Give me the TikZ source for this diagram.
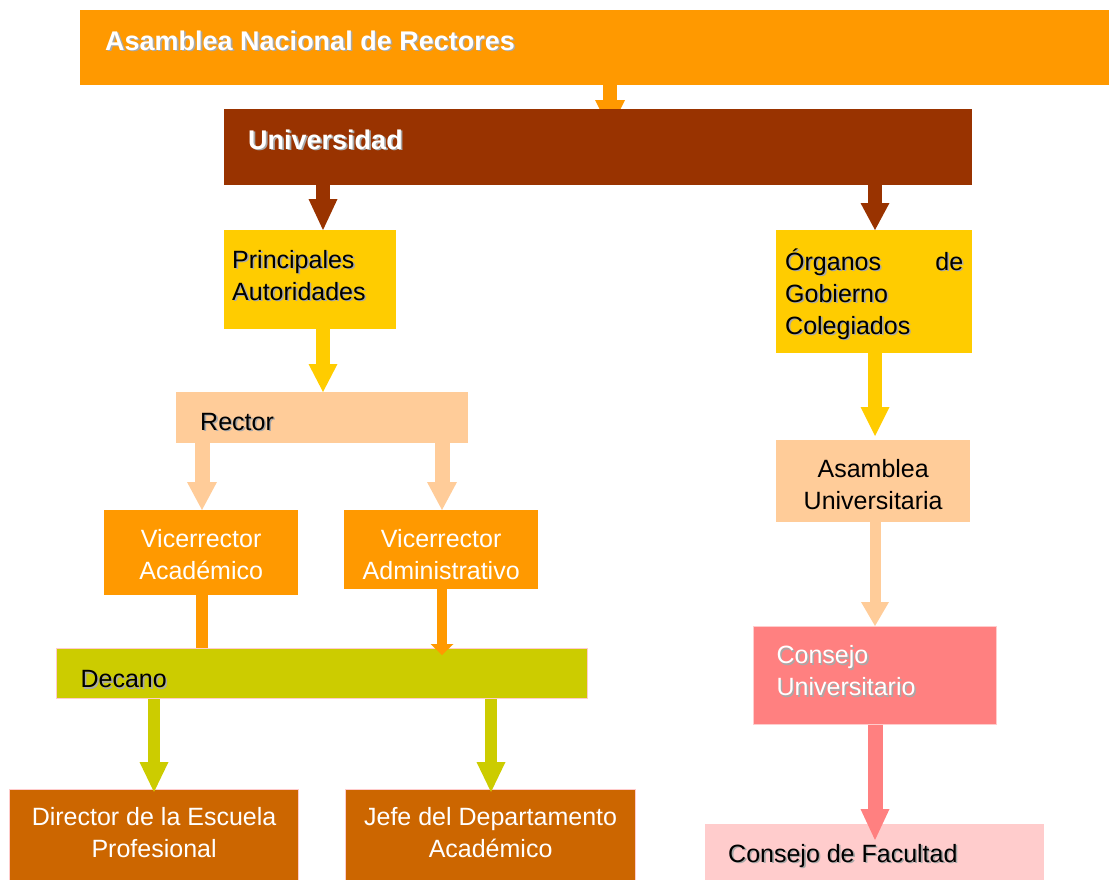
\documentclass[tikz,border=0pt]{standalone}
\usepackage{fontspec}
\setmainfont{Liberation Sans}
\usetikzlibrary{arrows.meta}
\definecolor{cOrange}{HTML}{FF9900}
\definecolor{cBrown}{HTML}{993300}
\definecolor{cYellow}{HTML}{FFCC00}
\definecolor{cPeach}{HTML}{FFCC99}
\definecolor{cOlive}{HTML}{CCCC00}
\definecolor{cRust}{HTML}{CC6600}
\definecolor{cSalmon}{HTML}{FF8080}
\definecolor{cPink}{HTML}{FFCCCC}
\definecolor{shgray}{HTML}{A8A8A8}
\pgfdeclarelayer{background}
\pgfsetlayers{background,main}
\newcommand\shd[1]{\leavevmode\rlap{\kern1.6pt\raisebox{-1.6pt}{\color{shgray}#1}}#1}
\tikzset{
  orgbox/.style={rectangle, inner sep=0pt, anchor=north west, font=\fontsize{25}{32}\selectfont},
  titlebox/.style={orgbox, font=\fontsize{27}{32}\selectfont\bfseries, text=white},
  edged/.style={draw=cPink, line width=1.2pt},
  flow/.style n args={4}{color=#1, line width=#2, -{Triangle[width=#3,length=#4,line width=0pt]}}
}
\begin{document}
\begin{tikzpicture}[x=1pt,y=-1pt]
\useasboundingbox (0,0) rectangle (1109,879);
\clip (0,0) rectangle (1109,879);
% boxes
\node[titlebox, fill=cOrange, minimum width=1040pt, minimum height=75pt, text height=40pt, text depth=35pt] (anr) at (80,10)
  {\parbox[t]{990pt}{\raggedright\shd{Asamblea Nacional de Rectores}}};
\node[titlebox, fill=cBrown, minimum width=748pt, minimum height=76pt, text height=40pt, text depth=36pt] (univ) at (224,109)
  {\parbox[t]{700pt}{\raggedright\shd{Universidad}}};
\node[orgbox, fill=cYellow, minimum width=172pt, minimum height=99pt, text height=38pt, text depth=61pt] (pa) at (224,230)
  {\parbox[t]{156pt}{\raggedright\shd{Principales}\\\shd{Autoridades}}};
\node[orgbox, fill=cYellow, minimum width=196pt, minimum height=123pt, text height=40pt, text depth=83pt] (og) at (776,230)
  {\parbox[t]{178pt}{\raggedright\shd{Órganos}\hfill\shd{de}\\\shd{Gobierno}\\\shd{Colegiados}}};
\node[orgbox, fill=cPeach, minimum width=292pt, minimum height=51pt, text height=38pt, text depth=13pt] (rector) at (176,392)
  {\parbox[t]{244pt}{\raggedright\shd{Rector}}};
\node[orgbox, fill=cOrange, text=white, minimum width=194pt, minimum height=85pt, text height=37pt, text depth=48pt] (va) at (104,510)
  {\parbox[t]{180pt}{\centering Vicerrector\\Académico}};
\node[orgbox, fill=cOrange, text=white, minimum width=194pt, minimum height=79pt, text height=37pt, text depth=42pt] (vad) at (344,510)
  {\parbox[t]{180pt}{\centering Vicerrector\\Administrativo}};
\node[orgbox, fill=cPeach, minimum width=194pt, minimum height=82pt, text height=37pt, text depth=45pt] (au) at (776,440)
  {\parbox[t]{180pt}{\centering Asamblea\\Universitaria}};
\node[orgbox, edged, fill=cOlive, minimum width=531pt, minimum height=50pt, text height=39pt, text depth=11pt] (dec) at (56,648)
  {\parbox[t]{483pt}{\raggedright\shd{Decano}}};
\node[orgbox, edged, fill=cSalmon, text=white, minimum width=243pt, minimum height=98pt, text height=37pt, text depth=61pt] (cu) at (753,626)
  {\parbox[t]{197pt}{\raggedright\shd{Consejo}\\\shd{Universitario}}};
\node[orgbox, edged, fill=cRust, text=white, minimum width=289pt, minimum height=100pt, text height=36pt, text depth=64pt] (dir) at (9,789)
  {\parbox[t]{270pt}{\centering Director de la Escuela\\Profesional}};
\node[orgbox, edged, fill=cRust, text=white, minimum width=290pt, minimum height=100pt, text height=36pt, text depth=64pt] (jefe) at (345,789)
  {\parbox[t]{276pt}{\centering Jefe del Departamento\\Académico}};
\node[orgbox, fill=cPink, minimum width=339pt, minimum height=76pt, text height=38pt, text depth=38pt] (cf) at (705,824)
  {\parbox[t]{293pt}{\raggedright\shd{Consejo de Facultad}}};
% arrow columns
\coordinate (x154) at (154,0);
\coordinate (x202) at (202,0);
\coordinate (x323) at (323,0);
\coordinate (x442) at (442,0);
\coordinate (x491) at (491,0);
\coordinate (x610) at (610,0);
\coordinate (x875) at (875,0);
\begin{pgfonlayer}{background}
\draw[flow={cOrange}{14pt}{30pt}{30pt}] (x610 |- anr.south) -- ([yshift=-21pt]x610 |- univ.north);
\draw[color=cOrange, line width=12pt] (x202 |- va.south) -- ([yshift=-8pt]x202 |- dec.north);
\end{pgfonlayer}
\draw[flow={cBrown}{14pt}{29pt}{31pt}] (x323 |- univ.south) -- (x323 |- pa.north);
\draw[flow={cBrown}{14pt}{29pt}{27pt}] (x875 |- univ.south) -- (x875 |- og.north);
\draw[flow={cYellow}{14pt}{29pt}{28pt}] (x323 |- pa.south) -- (x323 |- rector.north);
\draw[flow={cPeach}{15pt}{30pt}{28pt}] (x202 |- rector.south) -- (x202 |- va.north);
\draw[flow={cPeach}{15pt}{30pt}{28pt}] (x442 |- rector.south) -- (x442 |- vad.north);
\draw[flow={cOrange}{10pt}{23pt}{11pt}] (x442 |- vad.south) -- ([yshift=-7pt]x442 |- dec.north);
\draw[flow={cOlive}{12pt}{29pt}{30pt}] (x154 |- dec.south) -- ([yshift=-3pt]x154 |- dir.north);
\draw[flow={cOlive}{12pt}{29pt}{30pt}] (x491 |- dec.south) -- ([yshift=-3pt]x491 |- jefe.north);
\draw[flow={cYellow}{14pt}{29pt}{29pt}] (x875 |- og.south) -- ([yshift=4pt]x875 |- au.north);
\draw[flow={cPeach}{11pt}{28pt}{24pt}] (x875 |- au.south) -- (x875 |- cu.north);
\draw[flow={cSalmon}{15pt}{29pt}{31pt}] (x875 |- cu.south) -- ([yshift=-16pt]x875 |- cf.north);
\end{tikzpicture}
\end{document}
